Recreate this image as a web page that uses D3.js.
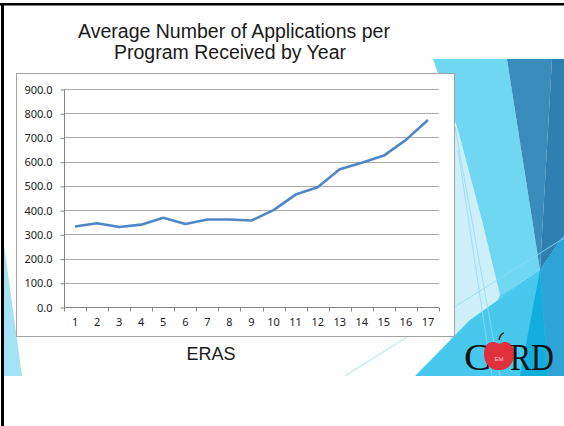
<!DOCTYPE html>
<html>
<head>
  <meta charset="utf-8">
  <title>Average Number of Applications per Program Received by Year</title>
  <script src="https://d3js.org/d3.v7.min.js"></script>
  <style>
    body { margin: 0; background: #fff; }
    .title, .eras { font-family: "Liberation Sans", Arial, sans-serif; fill: #1a1a1a; }
    .tick text { font: 11px "Noto Sans", "Open Sans", sans-serif; fill: #222; }
    .grid line { stroke: #ababab; stroke-width: 1px; }
    .line { fill: none; stroke: #4f86c4; stroke-width: 2.6px; stroke-linejoin: round; }
  </style>
</head>
<body>
  <script>
    const years = ["1","2","3","4","5","6","7","8","9","10","11","12","13","14","15","16","17"];
    const applications = [332, 346, 330, 340, 368, 343, 361, 361, 357, 400, 464, 494, 569, 596, 625, 690, 772];
    const yTicks = [0, 100, 200, 300, 400, 500, 600, 700, 800, 900];

    const width = 564;
    const height = 426;

    const svg = d3.select("body").append("svg")
      .attr("width", width)
      .attr("height", height);

    svg.append("rect").attr("width", width).attr("height", height).attr("fill", "#fff");

    // slide decoration (facets on the right, sliver on the left)
    const facets = [
      { fill: "#cdeff9", pts: [[450,120],[475,150],[505,300],[470,340],[450,340]] },
      { fill: "#6fd7f1", pts: [[433,59],[507,59],[540,270],[500,295],[482,220],[458,130]] },
      { fill: "#5ccff0", pts: [[500,295],[540,270],[520,376],[470,376]] },
      { fill: "#48c8ed", pts: [[415,376],[470,320],[540,270],[564,235],[564,376]] },
      { fill: "#3a8cbb", pts: [[507,59],[552,59],[540,270]] },
      { fill: "#2f7fb1", pts: [[552,59],[564,59],[564,235],[540,270]] },
      { fill: "#2ea3d6", pts: [[540,270],[564,235],[564,376],[548,376]] },
      { fill: "#12aedb", pts: [[520,376],[540,270],[548,376]] },
      { fill: "#a4e2f5", pts: [[4,245],[22,376],[4,376]] }
    ];
    svg.selectAll(".facet")
      .data(facets)
      .join("polygon")
      .attr("class", "facet")
      .attr("points", d => d.pts.map(p => p.join(",")).join(" "))
      .attr("fill", d => d.fill);

    const thin = [[345,376,564,238],[452,110,500,376],[458,150,492,376]];
    svg.selectAll(".thin")
      .data(thin)
      .join("line")
      .attr("class", "thin")
      .attr("x1", d => d[0]).attr("y1", d => d[1])
      .attr("x2", d => d[2]).attr("y2", d => d[3])
      .attr("stroke", "#8fdcf3")
      .attr("stroke-width", 0.8);

    // slide frame
    svg.append("rect").attr("x", 0).attr("y", 3).attr("width", width).attr("height", 2.5).attr("fill", "#000");
    svg.append("rect").attr("x", 1).attr("y", 3).attr("width", 3).attr("height", height).attr("fill", "#000");

    // title
    const title = svg.append("text")
      .attr("class", "title")
      .attr("text-anchor", "middle")
      .style("font-size", "19.5px");
    title.append("tspan").attr("x", 234).attr("y", 38).text("Average Number of Applications per");
    title.append("tspan").attr("x", 230).attr("y", 59).text("Program Received by Year");

    // chart box
    svg.append("rect")
      .attr("x", 16.5).attr("y", 73.5)
      .attr("width", 438).attr("height", 263)
      .attr("fill", "#fff")
      .attr("stroke", "#a3a3a3");

    const margin = { left: 64, right: 439, top: 89, bottom: 307 };

    const x = d3.scaleBand().domain(years).range([margin.left, margin.right]).padding(0);
    const y = d3.scaleLinear().domain([0, 900]).range([margin.bottom, margin.top]);

    // gridlines
    svg.append("g")
      .attr("class", "grid")
      .selectAll("line")
      .data(yTicks.slice(1))
      .join("line")
      .attr("x1", margin.left).attr("x2", margin.right)
      .attr("y1", d => Math.round(y(d)) + 0.5)
      .attr("y2", d => Math.round(y(d)) + 0.5);

    // y axis
    const yAxis = svg.append("g")
      .attr("transform", `translate(${margin.left + 0.5},0.5)`)
      .call(d3.axisLeft(y).tickValues(yTicks).tickFormat(d3.format(".1f")).tickSize(4).tickPadding(8));
    yAxis.selectAll("path, line").attr("stroke", "#868686");
    yAxis.select(".domain").attr("d", `M0,${margin.bottom}V${margin.top}`);

    // x axis
    const xAxis = svg.append("g")
      .attr("transform", `translate(0,${margin.bottom + 0.5})`)
      .call(d3.axisBottom(x).tickSize(0).tickPadding(11));
    xAxis.select(".domain").attr("stroke", "#868686").attr("d", `M${margin.left},0H${margin.right}`);
    xAxis.selectAll(".tick text").attr("dy", "0.71em");

    const bounds = d3.range(years.length + 1);
    xAxis.selectAll(".xtick")
      .data(bounds)
      .join("line")
      .attr("class", "xtick")
      .attr("x1", i => Math.round(margin.left + i * x.step()) + 0.5)
      .attr("x2", i => Math.round(margin.left + i * x.step()) + 0.5)
      .attr("y1", 0).attr("y2", 4)
      .attr("stroke", "#868686");

    // data line
    const line = d3.line()
      .x((d, i) => x(years[i]) + x.bandwidth() / 2)
      .y(d => y(d));

    svg.append("path")
      .datum(applications)
      .attr("class", "line")
      .attr("d", line);

    // subtitle
    svg.append("text")
      .attr("class", "eras")
      .attr("x", 211).attr("y", 360)
      .attr("text-anchor", "middle")
      .style("font-size", "18px")
      .text("ERAS");

    // CORD logo
    const logo = svg.append("g");
    logo.append("text")
      .attr("x", 464).attr("y", 370)
      .attr("font-family", "Liberation Serif, serif")
      .attr("font-size", 38)
      .attr("fill", "#111")
      .attr("textLength", 27)
      .attr("lengthAdjust", "spacingAndGlyphs")
      .text("C");
    logo.append("path")
      .attr("d", "M499,340 q1,-6 5,-7")
      .attr("stroke", "#222").attr("stroke-width", 1.6).attr("fill", "none");
    logo.append("path")
      .attr("d", "M499,344 C491,339 484,344 484,354 C484,364 491,371 499,370 C507,371 514,364 514,354 C514,344 507,339 499,344 Z")
      .attr("fill", "#e0303c");
    logo.append("text")
      .attr("x", 499).attr("y", 361)
      .attr("text-anchor", "middle")
      .attr("font-family", "Liberation Sans, sans-serif")
      .attr("font-size", 6)
      .attr("fill", "#f7c6c6")
      .text("EM");
    logo.append("text")
      .attr("x", 510).attr("y", 370)
      .attr("font-family", "Liberation Serif, serif")
      .attr("font-size", 38)
      .attr("fill", "#111")
      .attr("textLength", 44)
      .attr("lengthAdjust", "spacingAndGlyphs")
      .text("RD");
  </script>
</body>
</html>
